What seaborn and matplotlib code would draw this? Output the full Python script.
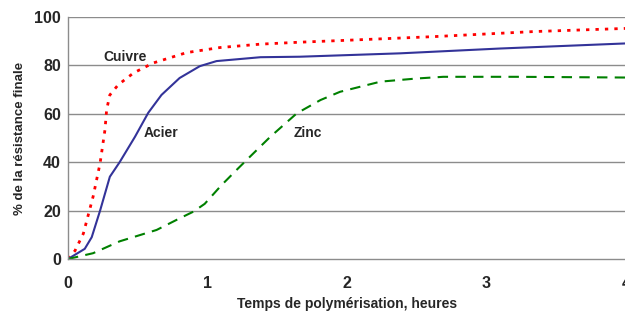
import matplotlib
matplotlib.use("Agg")
import matplotlib.pyplot as plt
import seaborn as sns


# =========================================
# DATA
# =========================================

cuivre_x = [0.0, 0.05, 0.11, 0.18, 0.23, 0.265, 0.277, 0.30, 0.36, 0.47, 0.61, 0.85, 1.09, 1.38, 1.66, 2.0, 2.62, 3.34, 4.0]
cuivre_y = [0.0, 3.4, 10.5, 25.8, 39.6, 53.4, 61.7, 67.8, 72.0, 76.9, 81.0, 85.3, 87.4, 88.8, 89.6, 90.4, 91.9, 94.0, 95.3]

acier_x = [0.0, 0.12, 0.17, 0.23, 0.30, 0.37, 0.48, 0.575, 0.67, 0.80, 0.945, 1.065, 1.38, 1.66, 2.38, 3.10, 4.0]
acier_y = [0.0, 4.2, 9.0, 20.0, 34.0, 40.0, 50.5, 60.4, 67.8, 74.8, 79.7, 81.8, 83.4, 83.6, 85.0, 87.0, 89.1]

zinc_x = [0.0, 0.18, 0.37, 0.635, 0.80, 0.90, 0.98, 1.10, 1.21, 1.28, 1.45, 1.64, 1.81, 1.95, 2.24, 2.50, 2.69, 3.22, 4.0]
zinc_y = [0.0, 2.4, 7.3, 12.0, 16.8, 19.6, 22.8, 30.5, 36.9, 40.9, 50.5, 60.2, 65.7, 69.1, 73.3, 74.6, 75.3, 75.3, 75.0]

series_labels = ["Cuivre", "Acier", "Zinc"]
label_pos = [(0.253, 83.6), (0.54, 52.0), (1.615, 52.2)]

x_ticks = [0, 1, 2, 3, 4]
y_ticks = [0, 20, 40, 60, 80, 100]


# =========================================
# FIGURE
# =========================================

sns.set_style("white")
plt.rcParams["font.family"] = ["Liberation Sans", "DejaVu Sans"]

fig = plt.figure(figsize=(6.25, 3.11), dpi=100)
ax = fig.add_axes([0.1088, 0.1672, 0.8928, 0.778])

sns.lineplot(x=cuivre_x, y=cuivre_y, ax=ax, color="#FF0000",
             linewidth=2, linestyle=(0, (1.2, 2.2)))
sns.lineplot(x=acier_x, y=acier_y, ax=ax, color="#333399", linewidth=1.5)
sns.lineplot(x=zinc_x, y=zinc_y, ax=ax, color="#008000",
             linewidth=1.5, linestyle=(0, (5, 3.5)))

for name, (tx, ty) in zip(series_labels, label_pos):
    ax.text(tx, ty, name, fontsize=10, fontweight="bold", va="center", ha="left")

ax.set_xlim(0, 4)
ax.set_ylim(0, 100)
ax.set_xticks(x_ticks)
ax.set_yticks(y_ticks)

for v in y_ticks[1:]:
    ax.axhline(v, color="#8c8c8c", linewidth=1, zorder=0)

for side in ["top", "right"]:
    ax.spines[side].set_visible(False)
for side in ["left", "bottom"]:
    ax.spines[side].set_color("#8c8c8c")
    ax.spines[side].set_linewidth(1)

ax.tick_params(axis="both", direction="out", length=4, width=1,
               color="#8c8c8c", labelsize=11.5)
ax.tick_params(axis="y", pad=1)
ax.tick_params(axis="x", pad=8)
for lab in ax.get_xticklabels() + ax.get_yticklabels():
    lab.set_fontweight("bold")

ax.set_xlabel("Temps de polymérisation, heures", fontsize=10, fontweight="bold")
ax.set_ylabel("% de la résistance finale", fontsize=9.5, fontweight="bold")
ax.xaxis.set_label_coords(0.5, -0.185)
ax.xaxis.label.set_va("center")
ax.yaxis.set_label_coords(-0.086, 0.5)
ax.yaxis.label.set_va("center")

fig.savefig("out.png", dpi=100)
